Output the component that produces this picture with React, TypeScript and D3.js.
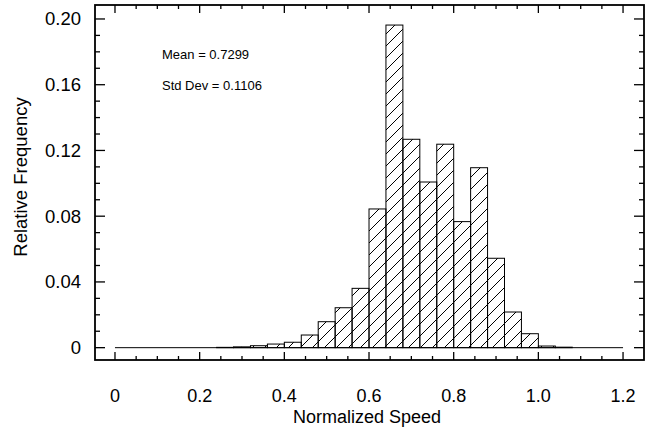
import React from "react";
import * as d3 from "d3";

const binStarts = [0, 0.04, 0.08, 0.12, 0.16, 0.2, 0.24, 0.28, 0.32, 0.36, 0.4, 0.44, 0.48, 0.52, 0.56, 0.6, 0.64, 0.68, 0.72, 0.76, 0.8, 0.84, 0.88, 0.92, 0.96, 1.0, 1.04, 1.08, 1.12, 1.16];
const freqs = [0, 0, 0, 0, 0, 0, 0.0002, 0.0005, 0.0012, 0.0022, 0.0033, 0.0077, 0.0158, 0.0243, 0.0361, 0.0844, 0.1963, 0.1268, 0.1008, 0.1238, 0.0767, 0.1095, 0.0544, 0.0217, 0.0085, 0.001, 0.0003, 0, 0, 0];
const binWidth = 0.04;
const xTicks = [0, 0.2, 0.4, 0.6, 0.8, 1.0, 1.2];
const xTickLabels = ["0", "0.2", "0.4", "0.6", "0.8", "1.0", "1.2"];
const yTicks = [0, 0.04, 0.08, 0.12, 0.16, 0.2];
const yTickLabels = ["0", "0.04", "0.08", "0.12", "0.16", "0.20"];
const annotations = ["Mean = 0.7299", "Std Dev = 0.1106"];

export default function App() {
  const W = 658, H = 428;
  const L = 95, R = 644, T = 5, B = 360;
  const x = d3.scaleLinear().domain([-0.0472, 1.2495]).range([L, R]);
  const y = d3.scaleLinear().domain([-0.0075, 0.2085]).range([B, T]);
  const font = "Liberation Sans, Arial, sans-serif";
  const xMinor = d3.range(0, 1.2001, 0.05);
  const yMinor = d3.range(0, 0.2001, 0.01);
  return (
    <svg width={W} height={H} style={{ position: "absolute", left: 0, top: 0, background: "#fff" }}>
      <defs>
        <pattern id="hatch" patternUnits="userSpaceOnUse" width="12" height="12">
          <line x1="-3" y1="15" x2="15" y2="-3" stroke="#000" strokeWidth="1" />
          <line x1="-3" y1="3" x2="3" y2="-3" stroke="#000" strokeWidth="1" />
          <line x1="9" y1="15" x2="15" y2="9" stroke="#000" strokeWidth="1" />
        </pattern>
      </defs>
      <rect x={0} y={0} width={W} height={H} fill="#fff" />
      <line x1={x(0)} x2={x(1.2)} y1={y(0)} y2={y(0)} stroke="#000" strokeWidth={1} />
      {binStarts.map((b, i) =>
        freqs[i] > 0 ? (
          <rect key={i} x={x(b)} y={y(freqs[i])} width={x(b + binWidth) - x(b)} height={y(0) - y(freqs[i])}
            fill="url(#hatch)" stroke="#000" strokeWidth={1} />
        ) : null
      )}
      <rect x={L} y={T} width={R - L} height={B - T} fill="none" stroke="#000" strokeWidth={1.8} />
      {xMinor.map((v, i) => {
        const major = i % 4 === 0;
        const len = major ? 8 : 4;
        return (
          <g key={"xm" + i}>
            <line x1={x(v)} x2={x(v)} y1={B} y2={B - len} stroke="#000" strokeWidth={1.3} />
            <line x1={x(v)} x2={x(v)} y1={T} y2={T + len} stroke="#000" strokeWidth={1.3} />
          </g>
        );
      })}
      {yMinor.map((v, i) => {
        const major = i % 4 === 0;
        const len = major ? 10 : 5;
        return (
          <g key={"ym" + i}>
            <line x1={L} x2={L + len} y1={y(v)} y2={y(v)} stroke="#000" strokeWidth={1.3} />
            <line x1={R} x2={R - len} y1={y(v)} y2={y(v)} stroke="#000" strokeWidth={1.3} />
          </g>
        );
      })}
      {xTicks.map((v, i) => (
        <text key={"xt" + i} x={x(v)} y={402} textAnchor="middle" fontFamily={font} fontSize={18}>{xTickLabels[i]}</text>
      ))}
      {yTicks.map((v, i) => (
        <text key={"yt" + i} x={81} y={y(v) + 6.5} textAnchor="end" fontFamily={font} fontSize={18.5}>{yTickLabels[i]}</text>
      ))}
      <text x={367} y={422.5} textAnchor="middle" fontFamily={font} fontSize={18}>Normalized Speed</text>
      <text transform={`translate(27,177) rotate(-90)`} textAnchor="middle" fontFamily={font} fontSize={18.5}>Relative Frequency</text>
      <text x={162} y={59} fontFamily={font} fontSize={13}>{annotations[0]}</text>
      <text x={162} y={90} fontFamily={font} fontSize={13}>{annotations[1]}</text>
    </svg>
  );
}
